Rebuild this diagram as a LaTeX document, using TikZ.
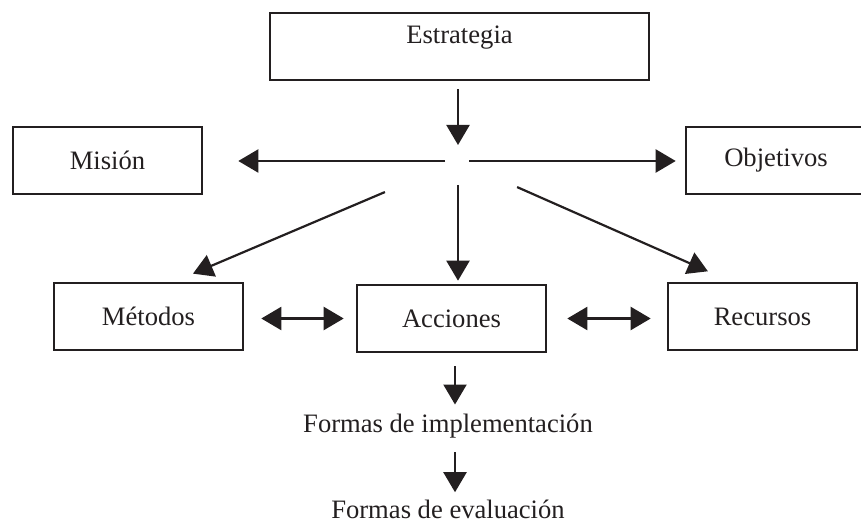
\documentclass[tikz,border=0pt]{standalone}
\usepackage{fontspec}
\setmainfont{Liberation Serif}
\usetikzlibrary{arrows.meta}
\definecolor{trazo}{HTML}{231F20}

\begin{document}
\begin{tikzpicture}[x=0.5pt, y=-0.5pt,
    >={Triangle[length=10pt,width=11.5pt]},
    caja/.style={draw=trazo, line width=1.3pt, minimum width=94.5pt,
      minimum height=33.5pt, inner sep=0pt, text=trazo},
    flecha/.style={->, color=trazo, line width=1.1pt},
    doble/.style={<->, color=trazo, line width=1.1pt},
    texto/.style={inner sep=0pt, text=trazo},
    font=\fontsize{13.3}{16}\selectfont]
  \useasboundingbox (0,0) rectangle (861,523);
  \clip (0,0) rectangle (861,523);

  \node[caja, minimum width=189.5pt] (estrategia) at (459.5,46.5)
    {\raisebox{1.25pt}[0pt][0pt]{Estrategia}};
  \node[caja] (mision) at (107.5,160.5) {Misión};
  \node[caja, minimum width=90pt] (objetivos) at (776,160.5) {Objetivos};
  \node[caja] (metodos) at (148.5,316.5) {Métodos};
  \node[caja] (acciones) at (451.5,318.5) {Acciones};
  \node[caja] (recursos) at (762.5,316.5) {Recursos};
  \node[texto] (implementacion) at (448,426) {Formas de implementación};
  \node[texto] (evaluacion) at (448,509) {Formas de evaluación};
  \coordinate (centro) at (458,161);

  % reparto desde la estrategia
  \draw[flecha, shorten <=4pt, shorten >=8pt] (estrategia.south -| centro) -- (centro);
  \draw[flecha, shorten <=6.5pt, shorten >=17.5pt] (centro) -- (mision.east |- centro);
  \draw[flecha, shorten <=5.5pt, shorten >=4.5pt] (centro) -- (objetivos.west |- centro);
  \draw[flecha, shorten <=12pt, shorten >=1.5pt] (centro) -- (centro |- acciones.north);
  \draw[flecha, shorten <=39.7pt, shorten >=10.3pt] (centro) -- ([xshift=12.75pt]metodos.north);
  \draw[flecha, shorten <=32.3pt, shorten >=12.9pt] (centro) -- ([xshift=-15.5pt]recursos.north);

  \draw[doble, shorten <=8.5pt, shorten >=6pt] (metodos.east |- acciones.west) -- (acciones.west);
  \draw[doble, shorten <=10pt, shorten >=8pt] (acciones.east) -- (acciones.east -| recursos.west);

  \draw[flecha, shorten <=6.5pt, shorten >=4.5pt]
    ([xshift=1.75pt]acciones.south) -- ([xshift=3.5pt]implementacion.north);
  \draw[flecha, shorten <=7pt, shorten >=3.5pt]
    ([xshift=3.5pt]implementacion.south) -- ([xshift=3.5pt]evaluacion.north);
\end{tikzpicture}
\end{document}
